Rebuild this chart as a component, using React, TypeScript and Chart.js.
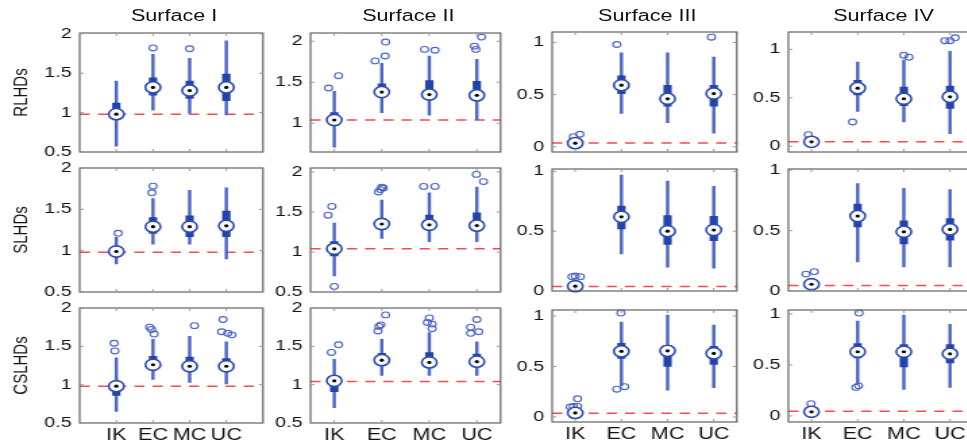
import React, { useEffect, useRef } from "react";
import { Chart, registerables } from "chart.js";
Chart.register(...registerables);

// ---------- data ----------
const categories = ["IK", "EC", "MC", "UC"];
const catX = [1, 2, 3, 4];
const surfaces = ["Surface I", "Surface II", "Surface III", "Surface IV"];
const metrics = ["RLHDs", "SLHDs", "CSLHDs"];
const refValues = [0.98, 1.04, 0.037, 0.045];

// each box: [whiskerLow, q1, median, q3, whiskerHigh] for IK, EC, MC, UC
const RLHD_S1_box = [[0.575, 0.92, 0.98, 1.12, 1.4], [1.03, 1.22, 1.32, 1.44, 1.74], [0.99, 1.18, 1.28, 1.4, 1.69], [0.97, 1.15, 1.32, 1.49, 1.91]];
const RLHD_S2_box = [[0.71, 0.97, 1.04, 1.13, 1.39], [1.13, 1.33, 1.38, 1.48, 1.73], [1.1, 1.29, 1.35, 1.52, 1.82], [1.04, 1.29, 1.34, 1.51, 1.78]];
const RLHD_S3_box = [[0.015, 0.025, 0.035, 0.055, 0.07], [0.32, 0.51, 0.59, 0.68, 0.9], [0.23, 0.39, 0.46, 0.59, 0.9], [0.13, 0.39, 0.51, 0.59, 0.86]];
const RLHD_S4_box = [[0.02, 0.03, 0.045, 0.06, 0.08], [0.36, 0.53, 0.6, 0.68, 0.87], [0.25, 0.42, 0.49, 0.61, 0.89], [0.13, 0.39, 0.51, 0.62, 0.98]];
const SLHD_S1_box = [[0.84, 0.95, 0.99, 1.03, 1.16], [1.08, 1.21, 1.29, 1.4, 1.63], [1.08, 1.17, 1.29, 1.42, 1.73], [0.9, 1.17, 1.3, 1.48, 1.76]];
const SLHD_S2_box = [[0.7, 0.95, 1.04, 1.13, 1.36], [1.17, 1.28, 1.35, 1.42, 1.65], [1.13, 1.28, 1.34, 1.46, 1.74], [1.13, 1.28, 1.33, 1.49, 1.81]];
const SLHD_S3_box = [[0.02, 0.03, 0.04, 0.06, 0.08], [0.31, 0.52, 0.62, 0.71, 0.97], [0.2, 0.39, 0.5, 0.63, 0.92], [0.19, 0.42, 0.51, 0.625, 0.875]];
const SLHD_S4_box = [[0.03, 0.04, 0.056, 0.07, 0.09], [0.24, 0.53, 0.62, 0.72, 0.89], [0.2, 0.39, 0.49, 0.58, 0.85], [0.2, 0.42, 0.51, 0.6, 0.84]];
const CSLHD_S1_box = [[0.65, 0.86, 0.98, 1.02, 1.35], [1.07, 1.2, 1.26, 1.37, 1.59], [1.03, 1.19, 1.24, 1.36, 1.63], [1.01, 1.19, 1.24, 1.34, 1.56]];
const CSLHD_S2_box = [[0.7, 0.91, 1.05, 1.08, 1.33], [1.12, 1.28, 1.32, 1.41, 1.59], [1.12, 1.25, 1.29, 1.42, 1.68], [1.12, 1.26, 1.3, 1.4, 1.56]];
const CSLHD_S3_box = [[0.02, 0.03, 0.04, 0.07, 0.09], [0.31, 0.58, 0.65, 0.73, 0.94], [0.265, 0.5, 0.655, 0.71, 1.01], [0.29, 0.52, 0.63, 0.7, 0.91]];
const CSLHD_S4_box = [[0.02, 0.03, 0.04, 0.06, 0.08], [0.31, 0.57, 0.63, 0.71, 0.93], [0.26, 0.48, 0.63, 0.7, 0.99], [0.28, 0.52, 0.61, 0.7, 0.9]];

// outliers: [x position (category with jitter), value]
const RLHD_S1_out = [[2, 1.82], [3, 1.81]];
const RLHD_S2_out = [[0.88, 1.43], [1.09, 1.58], [1.86, 1.76], [2.07, 1.82], [2.08, 1.99], [2.9, 1.9], [3.12, 1.89], [3.95, 1.94], [3.98, 1.9], [4.1, 2.05]];
const RLHD_S3_out = [[0.96, 0.097], [1.1, 0.12], [1.9, 0.98], [3.95, 1.05]];
const RLHD_S4_out = [[0.93, 0.12], [1.89, 0.25], [3.0, 0.94], [3.11, 0.92], [3.89, 1.09], [4.0, 1.09], [4.11, 1.12]];
const SLHD_S1_out = [[1.05, 1.21], [1.97, 1.7], [2.0, 1.78]];
const SLHD_S2_out = [[0.87, 1.46], [0.95, 1.57], [1.0, 0.57], [1.93, 1.75], [1.97, 1.78], [2.0, 1.81], [2.03, 1.8], [2.88, 1.82], [3.12, 1.82], [3.99, 1.97], [4.14, 1.88]];
const SLHD_S3_out = [[0.93, 0.12], [1.0, 0.125], [1.11, 0.12]];
const SLHD_S4_out = [[0.88, 0.14], [1.06, 0.16]];
const CSLHD_S1_out = [[0.94, 1.54], [0.96, 1.44], [1.91, 1.75], [1.96, 1.72], [2.03, 1.66], [3.13, 1.77], [3.91, 1.85], [3.87, 1.69], [4.04, 1.67], [4.15, 1.65]];
const CSLHD_S2_out = [[0.94, 1.42], [1.09, 1.52], [2.08, 1.91], [1.94, 1.76], [1.92, 1.7], [1.98, 1.78], [3.0, 1.87], [2.96, 1.81], [3.06, 1.79], [3.06, 1.73], [4.0, 1.85], [3.87, 1.75], [3.87, 1.67], [4.04, 1.69]];
const CSLHD_S3_out = [[0.89, 0.1], [0.96, 0.105], [1.05, 0.105], [1.05, 0.18], [1.99, 1.03], [1.9, 0.275], [2.07, 0.3]];
const CSLHD_S4_out = [[0.99, 0.12], [2.03, 1.01], [1.96, 0.28], [2.02, 0.295]];

const yLimits = [
  [[0.5, 2.01], [0.65, 2.1], [-0.05, 1.1], [-0.06, 1.18]],
  [[0.5, 2.0], [0.5, 2.05], [0, 1.02], [0, 1.01]],
  [[0.5, 2.0], [0.5, 2.0], [-0.05, 1.06], [-0.06, 1.04]],
];
const yTickSets = [
  [[0.5, 1, 1.5, 2], [1, 1.5, 2], [0, 0.5, 1], [0, 0.5, 1]],
  [[0.5, 1, 1.5, 2], [0.5, 1, 1.5, 2], [0, 0.5, 1], [0, 0.5, 1]],
  [[0.5, 1, 1.5, 2], [0.5, 1, 1.5, 2], [0, 0.5, 1], [0, 0.5, 1]],
];
const xLimits = [[0, 5], [0.5, 4.5], [0.5, 4.5], [0.5, 4.5]];

const boxTable = [
  [RLHD_S1_box, RLHD_S2_box, RLHD_S3_box, RLHD_S4_box],
  [SLHD_S1_box, SLHD_S2_box, SLHD_S3_box, SLHD_S4_box],
  [CSLHD_S1_box, CSLHD_S2_box, CSLHD_S3_box, CSLHD_S4_box],
];
const outTable = [
  [RLHD_S1_out, RLHD_S2_out, RLHD_S3_out, RLHD_S4_out],
  [SLHD_S1_out, SLHD_S2_out, SLHD_S3_out, SLHD_S4_out],
  [CSLHD_S1_out, CSLHD_S2_out, CSLHD_S3_out, CSLHD_S4_out],
];

// ---------- layout / style ----------
const STRETCH = 1.35;
const colL = [59, 230, 409, 584];
const colR = [199, 375, 550, 725];
const rowTB = [
  [[33, 152], [168, 292], [308, 423]],
  [[32, 152], [169, 291], [310, 422]],
];
const FONT = "'Liberation Sans', Arial, Helvetica, sans-serif";
const WHISKER = "#4d66c6";
const BOX = "#2443a8";
const MEDIAN_EDGE = "#2d4cb0";
const OUTLIER = "#4c63c6";
const REF = "#f44a55";

const framePlugin = {
  id: "frame",
  afterDraw(chart: any) {
    const { ctx, chartArea: a, scales } = chart;
    ctx.save();
    ctx.strokeStyle = "#555";
    ctx.lineWidth = 1.1;
    ctx.strokeRect(a.left, a.top, a.right - a.left, a.bottom - a.top);
    ctx.strokeStyle = "#999";
    ctx.lineWidth = 1;
    ctx.beginPath();
    scales.x.ticks.forEach((t: any) => {
      const px = scales.x.getPixelForValue(t.value);
      ctx.moveTo(px, a.bottom);
      ctx.lineTo(px, a.bottom - 3);
      ctx.moveTo(px, a.top);
      ctx.lineTo(px, a.top + 3);
    });
    scales.y.ticks.forEach((t: any) => {
      const py = scales.y.getPixelForValue(t.value);
      ctx.moveTo(a.left, py);
      ctx.lineTo(a.left + 3, py);
      ctx.moveTo(a.right, py);
      ctx.lineTo(a.right - 3, py);
    });
    ctx.stroke();
    ctx.restore();
  },
};

function Panel({ r, c }: { r: number; c: number }) {
  const ref = useRef<HTMLCanvasElement>(null);
  const L = colL[c];
  const R = colR[c];
  const [T, B] = rowTB[c < 2 ? 0 : 1][r];
  const AW = c === 0 ? L : 30;
  const PT = 10;
  const PR = 3;
  const AH = r === 2 ? 26 : 10;
  const w = AW + (R - L) + PR;
  const h = PT + (B - T) + AH;

  useEffect(() => {
    const boxes = boxTable[r][c];
    const outs = outTable[r][c];
    const [xmin, xmax] = xLimits[c];
    const [ymin, ymax] = yLimits[r][c];
    const yt = yTickSets[r][c];
    const refV = refValues[c];
    const chart = new Chart(ref.current as HTMLCanvasElement, {
      type: "bar",
      data: {
        datasets: [
          {
            type: "line",
            data: [{ x: xmin, y: refV }, { x: xmax, y: refV }],
            borderColor: REF,
            borderWidth: 1.5,
            borderDash: [7.5, 6],
            pointRadius: 0,
            order: 10,
          } as any,
          {
            type: "bar",
            data: boxes.map((b, i) => ({ x: catX[i], y: [b[0], b[4]] })),
            backgroundColor: WHISKER,
            barThickness: 1.8,
            grouped: false,
            borderWidth: 0,
            order: 6,
          } as any,
          {
            type: "bar",
            data: boxes.map((b, i) => ({ x: catX[i], y: [b[1], b[3]] })),
            backgroundColor: BOX,
            barThickness: 5.5,
            grouped: false,
            borderWidth: 0,
            order: 5,
          } as any,
          {
            type: "scatter",
            data: outs.map(([x, y]) => ({ x, y })),
            pointRadius: 2.9,
            borderWidth: 1.1,
            borderColor: OUTLIER,
            backgroundColor: "rgba(0,0,0,0)",
            clip: false,
            order: 4,
          } as any,
          {
            type: "scatter",
            data: boxes.map((b, i) => ({ x: catX[i], y: b[2] })),
            pointRadius: 5.6,
            borderWidth: 1.6,
            borderColor: MEDIAN_EDGE,
            backgroundColor: "#ffffff",
            clip: false,
            order: 3,
          } as any,
          {
            type: "scatter",
            data: boxes.map((b, i) => ({ x: catX[i], y: b[2] })),
            pointRadius: 1.6,
            borderWidth: 0,
            backgroundColor: "#000000",
            clip: false,
            order: 2,
          } as any,
        ],
      },
      options: {
        responsive: false,
        animation: false,
        events: [],
        layout: { padding: { left: 0, top: PT, right: PR, bottom: 0 } },
        plugins: { legend: { display: false }, tooltip: { enabled: false } },
        scales: {
          x: {
            type: "linear",
            min: xmin,
            max: xmax,
            offset: false,
            grid: { display: false, drawTicks: false },
            border: { display: false },
            afterBuildTicks: (s: any) => {
              s.ticks = catX.map((v) => ({ value: v }));
            },
            afterFit: (s: any) => {
              s.height = AH;
              s.paddingLeft = 0;
              s.paddingRight = 0;
            },
            ticks: {
              display: r === 2,
              padding: 3,
              maxRotation: 0,
              autoSkip: false,
              color: "#111",
              font: { family: FONT, size: 16 },
              callback: (_v: any, i: number) => categories[i],
            },
          },
          y: {
            type: "linear",
            min: ymin,
            max: ymax,
            beginAtZero: false,
            grid: { display: false, drawTicks: false },
            border: { display: false },
            afterBuildTicks: (s: any) => {
              s.ticks = yt.map((v) => ({ value: v }));
            },
            afterFit: (s: any) => {
              s.width = AW;
              s.paddingTop = 0;
              s.paddingBottom = 0;
            },
            ticks: {
              padding: 6,
              autoSkip: false,
              color: "#111",
              font: { family: FONT, size: 14.5 },
              callback: (v: any) => String(v),
            },
            title: {
              display: c === 0,
              text: metrics[r],
              color: "#111",
              font: { family: FONT, size: 15 },
              padding: { top: 7, bottom: 0 },
            },
          },
        },
      } as any,
      plugins: [framePlugin],
    });
    return () => chart.destroy();
  }, []);

  return (
    <canvas
      ref={ref}
      width={w}
      height={h}
      style={{ position: "absolute", left: L - AW, top: T - PT, width: w, height: h }}
    />
  );
}

export default function App() {
  const panels: React.ReactNode[] = [];
  for (let r = 0; r < 3; r++) {
    for (let c = 0; c < 4; c++) {
      panels.push(<Panel key={`${r}-${c}`} r={r} c={c} />);
    }
  }
  return (
    <div
      style={{
        position: "absolute",
        left: 0,
        top: 0,
        width: 967,
        height: 448,
        overflow: "hidden",
        background: "#ffffff",
      }}
    >
      <div
        style={{
          position: "absolute",
          left: 0,
          top: 0,
          width: 740,
          height: 448,
          transform: `scaleX(${STRETCH})`,
          transformOrigin: "0 0",
        }}
      >
        {surfaces.map((s, c) => (
          <div
            key={s}
            style={{
              position: "absolute",
              left: (colL[c] + colR[c]) / 2 - 60,
              top: 6,
              width: 120,
              textAlign: "center",
              fontFamily: FONT,
              fontSize: 16,
              lineHeight: "19px",
              color: "#111",
            }}
          >
            {s}
          </div>
        ))}
        {panels}
      </div>
    </div>
  );
}
